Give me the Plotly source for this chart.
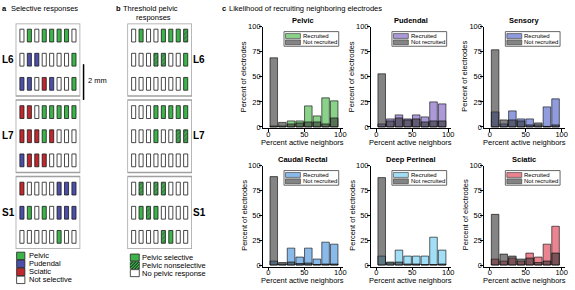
import plotly.graph_objects as go

W, H = 575, 290
FONT = "Liberation Sans, Arial, sans-serif"

# ---------------- data: panel c histograms ----------------
bin_centers = [7.5, 19.5, 31.5, 43.5, 55.5, 67.5, 79.5, 91.5]
nerves = ["Pelvic", "Pudendal", "Sensory", "Caudal Rectal", "Deep Perineal", "Sciatic"]
pelvic_rec = [1, 1, 6, 6, 21, 11, 29, 26]
pelvic_nonrec = [69, 4.5, 3, 4, 5, 5, 3, 9]
pudendal_rec = [3, 8, 12, 8, 12, 10, 25, 23]
pudendal_nonrec = [53, 6, 9, 7, 8, 5, 6, 6]
sensory_rec = [15, 3, 16, 8, 8, 2, 20, 28]
sensory_nonrec = [77, 7, 7, 6, 2, 4, 0.5, 2]
caudal_rec = [4, 1, 17, 8, 17, 6, 23, 21]
caudal_nonrec = [89, 2.5, 3, 1.5, 2, 0.5, 1, 1]
perineal_rec = [9, 2, 15, 9, 9, 9, 28, 15]
perineal_nonrec = [88, 3, 3, 1, 1, 0.5, 0.5, 1]
sciatic_rec = [6, 4, 7, 4, 12, 8, 21, 39]
sciatic_nonrec = [51, 11, 9, 6, 7, 2.5, 4, 12]
legend_labels = ["Recruited", "Not recruited"]

# ---------------- data: electrode grids ----------------
segments = ["L6", "L7", "S1"]
# panel a: P=pelvic, U=pudendal, S=sciatic, N=not selective
sel_L6 = ["NPNPPPPN", "NUUNNNNP", "UUNSUNNP"]
sel_L7 = ["SSNPPPPP", "SSSPSNNN", "USSSNNNN"]
sel_S1 = ["SNNNNUUU", "UPNPNUUU", "NNNNNPNN"]
sel_labels = ["Pelvic", "Pudendal", "Sciatic", "Not selective"]
# panel b: S=pelvic selective, H=pelvic nonselective, N=no pelvic response
thr_L6 = ["NSNNSSSH", "NNNHHNNS", "NNNNNNNS"]
thr_L7 = ["NNNSSSSS", "NNNSNNHH", "NNNNNNNN"]
thr_S1 = ["NHNHHNNN", "NSHSNNNN", "NNNNHSNN"]
thr_labels = ["Pelvic selective", "Pelvic nonselective", "No pelvic response"]

# ---------------- styles ----------------
GREEN = "#3cb44a"
BLUE = "#4b4fa8"
RED = "#c1272d"
sel_color = {"P": GREEN, "U": BLUE, "S": RED, "N": "white"}
thr_color = {"S": GREEN, "H": GREEN, "N": "white"}
rec_rgb = [(60, 180, 60), (115, 85, 190), (70, 90, 200), (60, 140, 220), (100, 200, 240), (220, 50, 70)]
NR_RGB = (50, 50, 50)
ALPHA = 0.6


def rgba(c, a):
    return "rgba(%d,%d,%d,%.3f)" % (c[0], c[1], c[2], a)


def over_white(c, a):
    return "rgb(%d,%d,%d)" % tuple(round(a * v + (1 - a) * 255) for v in c)


def fx(px):
    return px / W


def fy(py):
    return 1 - py / H


fig = go.Figure()
layout = dict(
    width=W, height=H, margin=dict(l=0, r=0, t=0, b=0),
    paper_bgcolor="white", plot_bgcolor="rgba(0,0,0,0)",
    barmode="overlay", showlegend=False,
    font=dict(family=FONT, size=7.5, color="black"),
)
shapes = []
annotations = []


def ann(text, x, y, size=7.5, xanchor="left", yanchor="middle", bold=False, angle=0):
    if bold:
        text = "<b>%s</b>" % text
    annotations.append(dict(text=text, x=fx(x), y=fy(y), xref="paper", yref="paper",
                            xanchor=xanchor, yanchor=yanchor, showarrow=False,
                            textangle=angle, font=dict(size=size, family=FONT, color="black"),
                            borderpad=0))


def rect(x0, y0, x1, y1, fill, line="#222", lw=0.8):
    shapes.append(dict(type="rect", xref="paper", yref="paper", x0=fx(x0), x1=fx(x1),
                       y0=fy(y1), y1=fy(y0), fillcolor=fill, line=dict(color=line, width=lw),
                       layer="above"))


# ---------------- panel c ----------------
rec_vals = [pelvic_rec, pudendal_rec, sensory_rec, caudal_rec, perineal_rec, sciatic_rec]
nonrec_vals = [pelvic_nonrec, pudendal_nonrec, sensory_nonrec, caudal_nonrec, perineal_nonrec, sciatic_nonrec]
col_left = [264, 372.5, 486.5]
PW = 81
row_tb = [(23.3, 127.5), (165.7, 269.0)]
XR = [-8, 104]
YR = [-1.5, 100]

for k in range(6):
    r, c = divmod(k, 3)
    left = col_left[c]
    top, bot = row_tb[r]
    xa = "x" if k == 0 else "x%d" % (k + 1)
    ya = "y" if k == 0 else "y%d" % (k + 1)
    xkey = "xaxis" if k == 0 else "xaxis%d" % (k + 1)
    ykey = "yaxis" if k == 0 else "yaxis%d" % (k + 1)
    axstyle = dict(showline=True, linecolor="black", linewidth=1, ticks="outside", ticklen=2.5,
                   tickwidth=1, tickcolor="black", showgrid=False, zeroline=False,
                   tickfont=dict(size=7.5, family=FONT, color="black"), fixedrange=True)
    layout[xkey] = dict(domain=[fx(left), fx(left + PW)], range=XR, anchor=ya,
                        tickvals=[0, 50, 100], ticklabelstandoff=-4, **axstyle)
    layout[ykey] = dict(domain=[fy(bot), fy(top)], range=YR, anchor=xa,
                        tickvals=[0, 25, 50, 75, 100], ticklabelstandoff=-3, **axstyle)
    fig.add_trace(go.Bar(x=bin_centers, y=rec_vals[k], width=10.5, xaxis=xa, yaxis=ya,
                         marker=dict(color=rgba(rec_rgb[k], ALPHA),
                                     line=dict(color="rgba(0,0,0,0.75)", width=0.8)),
                         name=legend_labels[0]))
    fig.add_trace(go.Bar(x=bin_centers, y=nonrec_vals[k], width=10.5, xaxis=xa, yaxis=ya,
                         marker=dict(color=rgba(NR_RGB, ALPHA),
                                     line=dict(color="rgba(0,0,0,0.75)", width=0.8)),
                         name=legend_labels[1]))
    # title & axis titles
    ann(nerves[k], left + PW / 2, top - 6.5, size=7.5, xanchor="center", bold=True)
    ann("Percent active neighbors", left + PW / 2, bot + 14, size=7.5, xanchor="center")
    ann("Percent of electrodes", left - 19, (top + bot) / 2 - 1, size=7.5, xanchor="center", angle=-90)
    # legend box
    lx0, ly0 = left + 21.5, top + 5
    rect(lx0, ly0, lx0 + 55, ly0 + 15, "white", line="#666", lw=1)
    rect(lx0 + 1.5, ly0 + 2, lx0 + 16.5, ly0 + 7, over_white(rec_rgb[k], ALPHA), line="#333", lw=0.6)
    rect(lx0 + 1.5, ly0 + 8.5, lx0 + 16.5, ly0 + 13.5, over_white(NR_RGB, ALPHA), line="#333", lw=0.6)
    ann(legend_labels[0], lx0 + 18, ly0 + 4.5, size=6)
    ann(legend_labels[1], lx0 + 18, ly0 + 11, size=6)

ann("c", 222.5, 5, size=7.5, bold=True)
ann("Likelihood of recruiting neighboring electrodes", 229, 5, size=7.5)

# ---------------- panels a & b ----------------
SEG_PITCH = 3.17
EH, EW = 0.53, 0.55
GX = [-0.85, 7.85]
GY = [2 * SEG_PITCH + 2.5, -0.5]


def grid_panel(idx, grids, cmap, hatch_code, left_px, right_px):
    xa, ya = "x%d" % idx, "y%d" % idx
    layout["xaxis%d" % idx] = dict(domain=[fx(left_px), fx(right_px)], range=GX, visible=False,
                                   anchor=ya, fixedrange=True)
    layout["yaxis%d" % idx] = dict(domain=[fy(251), fy(20)], range=GY, visible=False,
                                   anchor=xa, fixedrange=True)
    xs, bases, colors, pats = [], [], [], []
    for s, rows in enumerate(grids):
        for rr, row in enumerate(rows):
            for cc, code in enumerate(row):
                xs.append(cc)
                bases.append(s * SEG_PITCH + rr - EH / 2)
                colors.append(cmap[code])
                pats.append("/" if code == hatch_code else "")
        shapes.append(dict(type="rect", xref=xa, yref=ya, x0=GX[0], x1=GX[1],
                           y0=s * SEG_PITCH - 0.5, y1=s * SEG_PITCH + 2.5,
                           line=dict(color="#a0a0a0", width=1.5), fillcolor="rgba(0,0,0,0)"))
    fig.add_trace(go.Bar(x=xs, y=[EH] * len(xs), base=bases, width=EW, xaxis=xa, yaxis=ya,
                         marker=dict(color=colors, line=dict(color="#1a1a1a", width=0.8),
                                     pattern=dict(shape=pats, fgcolor="#111111", bgcolor=colors,
                                                  size=3, solidity=0.5))))


grid_panel(7, [sel_L6, sel_L7, sel_S1], sel_color, None, 15.7, 80.7)
grid_panel(8, [thr_L6, thr_L7, thr_S1], thr_color, "H", 128, 193)

# segment labels
seg_y = [57, 135, 213.5]
for s, name in enumerate(segments):
    ann(name, 1.5, seg_y[s], size=10, bold=True)
    ann(name, 193.5, seg_y[s], size=10, bold=True)

# panel titles
ann("a", 1.5, 5, size=7.5, bold=True)
ann("Selective responses", 10.5, 5, size=7.5)
ann("b", 115.5, 4.5, size=7.5, bold=True)
ann("Threshold pelvic", 123, 4.5, size=7.5)
ann("responses", 136, 13.8, size=7.5)

# scale bar
shapes.append(dict(type="line", xref="paper", yref="paper", x0=fx(84), x1=fx(84),
                   y0=fy(61.7), y1=fy(98.3), line=dict(color="black", width=1.5)))
ann("2 mm", 87, 78, size=7.5)

# panel a legend
a_cols = [GREEN, BLUE, RED, "white"]
for i, lab in enumerate(sel_labels):
    cy = 258.1 + 8.2 * i
    rect(16.7, cy - 3.8, 25, cy + 3.8, a_cols[i], line="#222", lw=0.8)
    ann(lab, 28.5, cy, size=7.5)

# panel b legend
for i, lab in enumerate(thr_labels):
    cy = 259.8 + 8.0 * i
    x0, x1, y0, y1 = 131, 140, cy - 3.6, cy + 3.6
    if i == 0:
        rect(x0, y0, x1, y1, GREEN, line="#222", lw=0.8)
    elif i == 1:
        rect(x0, y0, x1, y1, "#1d3a22", line="#222", lw=0.8)
        segs = []
        for t in range(-6, 10, 3):
            ax, ay = x0 + t, y1
            bx, by = x0 + t + 7, y0
            if ax < x0:
                ay = y1 - (x0 - ax); ax = x0
            if bx > x1:
                by = y0 + (bx - x1); bx = x1
            if ay > by:
                segs.append("M%.4f,%.4f L%.4f,%.4f" % (fx(ax), fy(ay), fx(bx), fy(by)))
        shapes.append(dict(type="path", xref="paper", yref="paper", path=" ".join(segs),
                           line=dict(color=GREEN, width=1.2), layer="above"))
    else:
        rect(x0, y0, x1, y1, "white", line="#222", lw=0.8)
    ann(lab, 141.5, cy, size=7.5)

layout["shapes"] = shapes
layout["annotations"] = annotations
fig.update_layout(**layout)
fig.write_html("out.html", config={"displayModeBar": False},
               post_script="document.body.style.margin='0px';document.body.style.overflow='hidden';")
